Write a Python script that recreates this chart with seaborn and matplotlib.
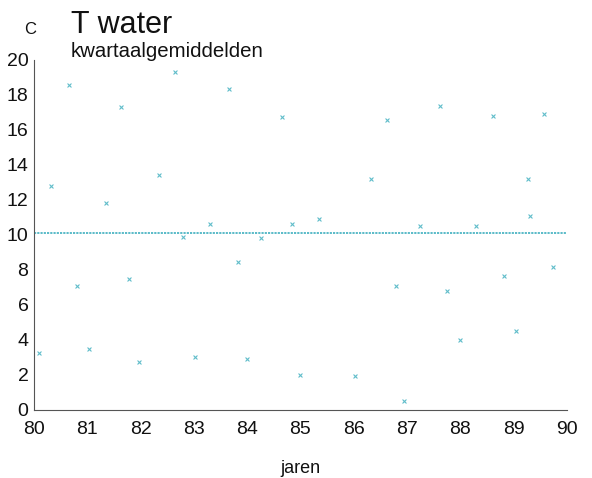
import matplotlib
matplotlib.use("Agg")
import matplotlib.pyplot as plt
import seaborn as sns
import pandas as pd

# Quarterly mean water temperature (°C), 1980-1989
jaar = [80.10, 80.31, 80.66, 80.81, 81.03, 81.36, 81.63, 81.79, 81.97,
        82.35, 82.64, 82.79, 83.02, 83.31, 83.66, 83.82, 84.00, 84.26,
        84.65, 84.84, 84.99, 85.35, 86.02, 86.32, 86.63, 86.80, 86.95,
        87.24, 87.61, 87.75, 88.00, 88.29, 88.62, 88.82, 89.04, 89.26,
        89.31, 89.57, 89.74]
temperatuur = [3.24, 12.8, 18.59, 7.1, 3.47, 11.85, 17.33, 7.47, 2.72,
               13.45, 19.3, 9.9, 3.01, 10.63, 18.34, 8.46, 2.9, 9.85,
               16.72, 10.62, 2.0, 10.91, 1.92, 13.22, 16.59, 7.07, 0.5,
               10.53, 17.39, 6.8, 3.98, 10.53, 16.78, 7.64, 4.51, 13.22,
               11.1, 16.91, 8.17]

# Long-term mean level drawn across the full period
gemiddelde = 10.1
periode = [80, 90]

x_ticks = list(range(80, 91))
y_ticks = list(range(0, 21, 2))

kleur = "#4db5c4"

sns.set_theme(style="white")
plt.rcParams["font.family"] = ["Liberation Sans", "DejaVu Sans"]

fig = plt.figure(figsize=(5.92, 4.78), dpi=100)
ax = fig.add_axes([0.0574, 0.1423, 0.9003, 0.7322])

punten = pd.DataFrame({"jaar": jaar, "temperatuur": temperatuur})
lijn = pd.DataFrame({"jaar": periode, "temperatuur": [gemiddelde] * len(periode)})

sns.lineplot(data=lijn, x="jaar", y="temperatuur", ax=ax, color=kleur,
             linewidth=1.3, linestyle=(0, (1.2, 0.6)))
sns.scatterplot(data=punten, x="jaar", y="temperatuur", ax=ax, marker="x",
                color=kleur, s=8, linewidth=0.8, alpha=0.9)

ax.set_xlim(80, 90)
ax.set_ylim(0, 20)
ax.set_xticks(x_ticks)
ax.set_yticks(y_ticks)
ax.set_xticklabels([str(t) for t in x_ticks], fontsize=14)
ax.set_yticklabels([str(t) for t in y_ticks], fontsize=14)
ax.tick_params(axis="both", which="major", length=4, width=0.8,
               color="#555555", pad=0, labelcolor="#111111")
ax.tick_params(axis="x", pad=4)

for side in ["top", "right"]:
    ax.spines[side].set_visible(False)
for side in ["left", "bottom"]:
    ax.spines[side].set_color("#555555")
    ax.spines[side].set_linewidth(0.8)

ax.set_xlabel("jaren", fontsize=13, color="#111111", labelpad=16)
ax.set_ylabel("")

fig.text(24 / 592, 1 - 34 / 478, "C", fontsize=12, color="#111111",
         ha="left", va="baseline")
fig.text(71 / 592, 1 - 33 / 478, "T water", fontsize=22, color="#111111",
         ha="left", va="baseline")
fig.text(71 / 592, 1 - 57 / 478, "kwartaalgemiddelden", fontsize=14.7,
         color="#111111", ha="left", va="baseline")

fig.savefig("out.png", dpi=100, facecolor="white")
